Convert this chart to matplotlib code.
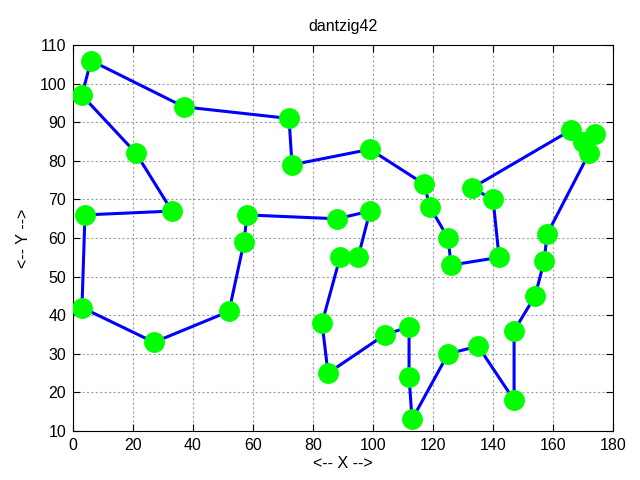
import matplotlib
matplotlib.use("Agg")
import matplotlib.pyplot as plt

# dantzig42 city coordinates, in tour order
xs = [170, 166, 133, 140, 142, 126, 125, 119, 117, 99, 73, 72, 37, 6, 3, 21, 33,
      4, 3, 27, 52, 57, 58, 88, 99, 95, 89, 83, 85, 104, 112, 112, 113, 125, 135,
      147, 147, 154, 157, 158, 172, 174]
ys = [85, 88, 73, 70, 55, 53, 60, 68, 74, 83, 79, 91, 94, 106, 97, 82, 67,
      66, 42, 33, 41, 59, 66, 65, 67, 55, 55, 38, 25, 35, 37, 24, 13, 30, 32,
      18, 36, 45, 54, 61, 82, 87]

xticks = list(range(0, 181, 20))
yticks = list(range(10, 111, 10))

plt.rcParams['font.family'] = ['Liberation Sans', 'DejaVu Sans']
plt.rcParams['font.size'] = 11.5

fig = plt.figure(figsize=(6.4, 4.8), dpi=100)
ax = fig.add_axes([0.114, 0.102, 0.844, 0.804])

# closed tour
tx = xs + [xs[0]]
ty = ys + [ys[0]]
ax.plot(tx, ty, color='#0000ff', lw=2.2, zorder=2)
ax.plot(xs, ys, 'o', color='#00ff00', ms=14, mec='#00ff00', zorder=3)

ax.set_xlim(0, 180)
ax.set_ylim(10, 110)
ax.set_xticks(xticks)
ax.set_yticks(yticks)
ax.tick_params(direction='in', top=True, right=True, length=5, pad=5)
ax.grid(True, color='#a0a0a0', linestyle=(0, (2, 2)), lw=0.8)
ax.set_axisbelow(True)

ax.set_title('dantzig42', fontsize=11.5, pad=10)
ax.set_xlabel('<-- X -->', labelpad=2)
ax.set_ylabel('<-- Y -->', labelpad=6)

fig.savefig('out.png', dpi=100)
